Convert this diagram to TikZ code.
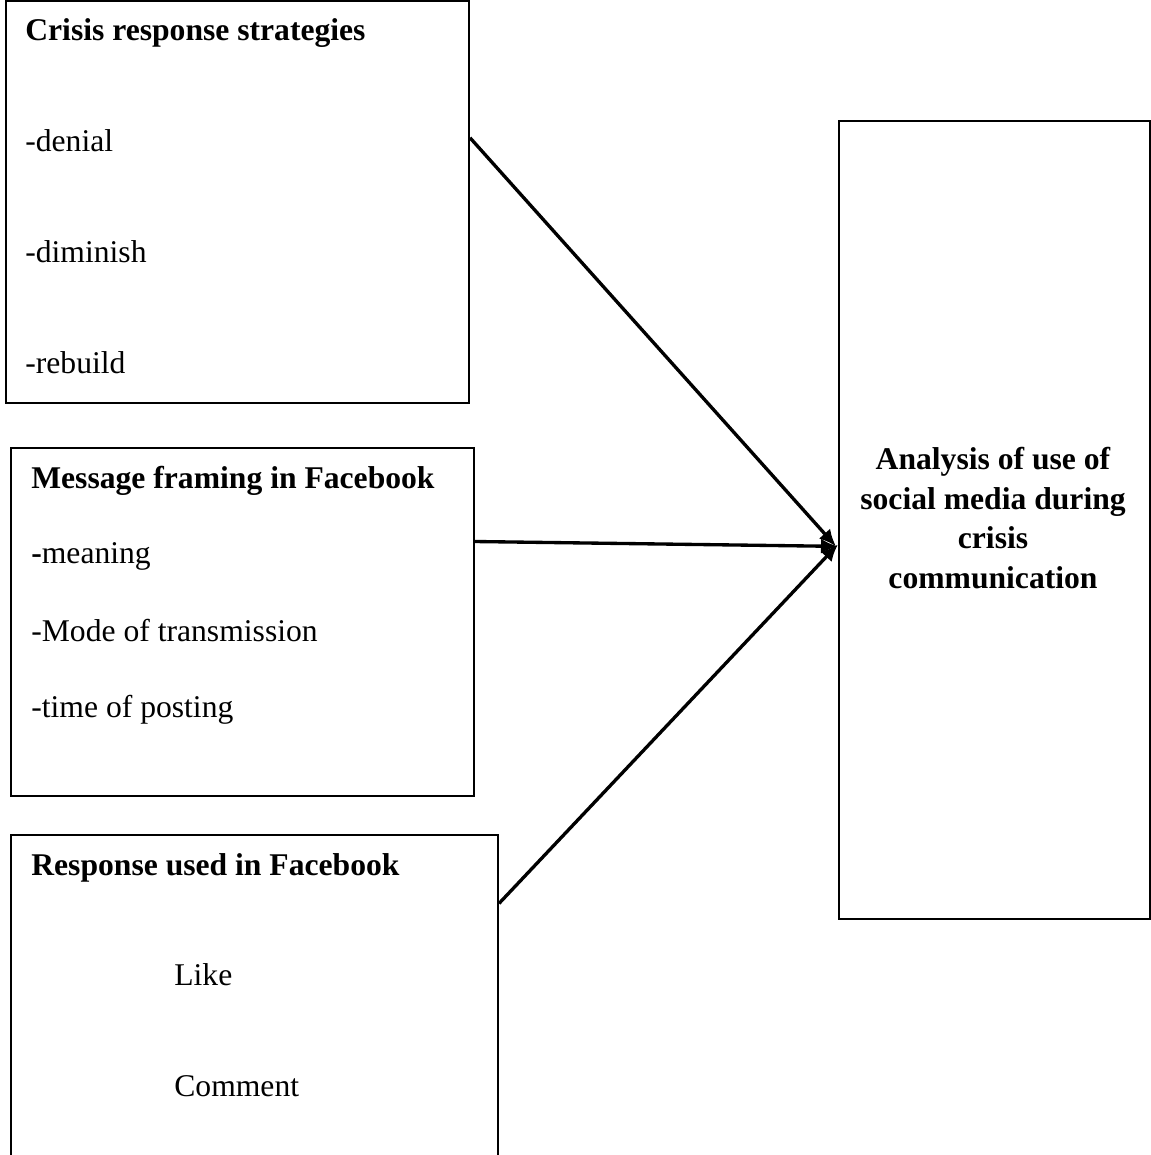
\documentclass[tikz,border=0pt]{standalone}
\usepackage{fontspec}
\setmainfont{Liberation Serif}
\usetikzlibrary{arrows.meta,positioning,calc}

\begin{document}
\begin{tikzpicture}[
  x=0.02cm, y=-0.02cm,
  box/.style={rectangle, draw, line width=1.2pt, inner sep=0pt, anchor=north west},
  txt/.style={anchor=base west, inner sep=0pt, font=\fontsize{18}{22}\selectfont},
  head/.style={txt, font=\fontsize{18}{22}\selectfont\bfseries},
  arr/.style={-{Latex[length=3.4mm,width=3mm]}, line width=1.9pt}
]
  \useasboundingbox (0,0) rectangle (1150,1155);

  % boxes
  \node[box, minimum width=9.26cm, minimum height=8.04cm] (crisis) at (5,0) {};
  \node[box, minimum width=9.26cm, minimum height=6.96cm] (framing) at (10,447) {};
  \node[box, minimum width=9.74cm, minimum height=6.42cm] (resp) at (10,834) {};
  \node[box, minimum width=6.22cm, minimum height=15.96cm] (analysis) at (838,120) {};

  % texts
  \node[head] (crisishead) at (25,41) {Crisis response strategies};
  \node[txt] (denial) at (25,152) {-denial};
  \node[txt] (diminish) at (25,263) {-diminish};
  \node[txt] (rebuild) at (25,373) {-rebuild};

  \node[head] (framinghead) at (31,488) {Message framing in Facebook};
  \node[txt] (meaning) at (31,563) {\textbf{-}meaning};
  \node[txt] (mode) at (31,641) {-Mode of transmission};
  \node[txt] (timepost) at (31,717) {-time of posting};

  \node[head] (resphead) at (31,875) {Response used in Facebook};
  \node[txt] (like) at (174,985) {Like};
  \node[txt] (comment) at (174,1096) {Comment};

  \node[align=center, inner sep=0pt, font=\fontsize{18}{22.4}\selectfont\bfseries,
        anchor=base] (analysistxt) at (993,588)
        {Analysis of use of\\social media during\\crisis\\communication};

  % arrows
  \coordinate (target) at ($(analysis.north west)!0.533!(analysis.south west)$);
  \draw[arr] ($(crisis.north east)!0.341!(crisis.south east)$) -- ($(target)+(-2,0)$);
  \draw[arr] ($(framing.north east)!0.27!(framing.south east)$) -- (target);
  \draw[arr] ($(resp.north east)!0.215!(resp.south east)$) -- ($(target)+(0,-2)$);
\end{tikzpicture}
\end{document}
